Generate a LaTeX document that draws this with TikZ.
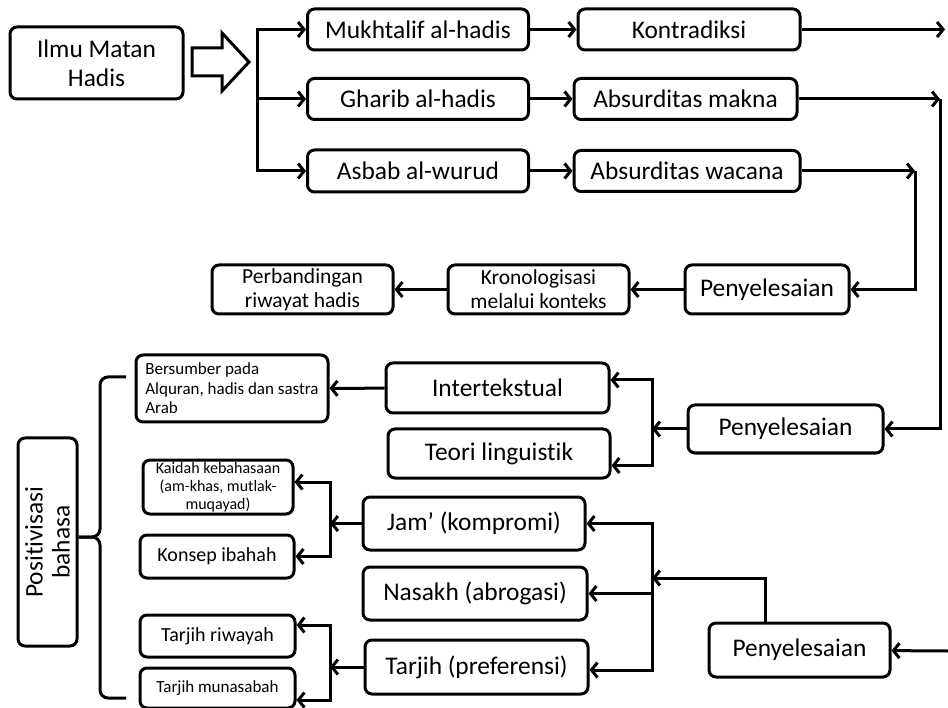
\documentclass[tikz,border=0pt]{standalone}
\usepackage{fontspec}
\setmainfont[Ligatures={TeX,NoCommon}]{Carlito}
\usetikzlibrary{arrows.meta}

\begin{document}
\begin{tikzpicture}[x=1pt,y=-1pt,>={Straight Barb[length=6pt,width=15pt]},
  box/.style={draw,line width=3pt,rounded corners=7pt,align=center,inner sep=0pt,font=\fontsize{25.4}{29}\selectfont},
  arr/.style={->,line width=3pt}]
\useasboundingbox (0,0) rectangle (948,708);
\node[box,minimum width=173pt,minimum height=72pt](ilmu) at (96.5,63){Ilmu Matan\\Hadis};
\draw[line width=3pt,line join=miter](192,48)--(222,48)--(222,33)--(249,62)--(222,91)--(222,76)--(192,76)--cycle;
\node[box,minimum width=221pt,minimum height=41pt](mukh) at (418,29.5){Mukhtalif al-hadis};
\node[box,minimum width=221pt,minimum height=41pt](ghar) at (418,99){Gharib al-hadis};
\node[box,minimum width=221pt,minimum height=42pt](asbab) at (418,171){Asbab al-wurud};
\node[box,minimum width=222pt,minimum height=41pt](kontra) at (689,29.5){Kontradiksi};
\node[box,minimum width=223pt,minimum height=41pt](makna) at (685.5,99){Absurditas makna};
\node[box,minimum width=226pt,minimum height=41pt](wacana) at (687,171){Absurditas wacana};
\node[box,minimum width=164pt,minimum height=49pt](penyA) at (767,289.5){Penyelesaian};
\node[box,minimum width=181pt,minimum height=49pt,font=\fontsize{21.5}{24}\selectfont](krono) at (538.5,289.5){Kronologisasi\\melalui konteks};
\node[box,minimum width=181pt,minimum height=49pt,font=\fontsize{21.5}{24}\selectfont](perband) at (302.5,289.5){Perbandingan\\riwayat hadis};
\node[box,minimum width=195pt,minimum height=48pt](penyB) at (785.5,429){Penyelesaian};
\node[box,minimum width=223pt,minimum height=50pt](intert) at (497.5,388){Intertekstual};
\node[box,minimum width=222pt,minimum height=49pt](teori) at (499,453.5){Teori linguistik};
\node[box,minimum width=192pt,minimum height=67pt,align=left,font=\fontsize{17}{19.5}\selectfont](sumber) at (232,388.5){Bersumber pada\\Alquran, hadis dan sastra\\Arab};
\node[box,minimum width=150pt,minimum height=54pt,font=\fontsize{16}{18}\selectfont](kaidah) at (218,487){Kaidah kebahasaan\\(am-khas, mutlak-\\muqayad)};
\node[box,minimum width=154pt,minimum height=43pt,font=\fontsize{20}{22}\selectfont](konsep) at (217,556.5){Konsep ibahah};
\node[box,minimum width=222pt,minimum height=53pt](jam) at (474,523.5){Jam’ (kompromi)};
\node[box,minimum width=224pt,minimum height=53pt](nasakh) at (475,593.5){Nasakh (abrogasi)};
\node[box,minimum width=223pt,minimum height=54pt](tarjih) at (476.5,667){Tarjih (preferensi)};
\node[box,minimum width=181pt,minimum height=54pt](penyC) at (799.5,650){Penyelesaian};
\node[box,minimum width=155pt,minimum height=42pt,font=\fontsize{20}{22}\selectfont](triw) at (217.5,636){Tarjih riwayah};
\node[box,minimum width=155pt,minimum height=40pt,font=\fontsize{17}{19}\selectfont](tmun) at (217.5,688){Tarjih munasabah};
\node[box,rotate=90,minimum width=208pt,minimum height=59pt,font=\fontsize{25.4}{27}\selectfont](posit) at (47.5,542){Positivisasi\\bahasa};
\coordinate(fork) at (257,99);
\coordinate(kout) at (945,29.5);
\coordinate(cA) at (940,99);
\coordinate(cB) at (915,171);
\coordinate(bB) at (652,429);
\coordinate(bJ) at (330,523.5);
\coordinate(bT) at (330,667);
\coordinate(bC) at (652,578);
\coordinate(cin) at (948,651);
\draw[arr](fork)|-(mukh);
\draw[arr](fork)--(ghar);
\draw[arr](fork)|-(asbab);
\draw[arr](mukh)--(kontra);
\draw[arr](ghar)--(makna);
\draw[arr](asbab)--(wacana);
\draw[arr](kontra)--(kout);
\draw[arr](makna)--(cA);
\draw[arr](wacana)--(cB);
\draw[arr](cB)|-(penyA);
\draw[arr](cA)|-(penyB);
\draw[arr](penyA)--(krono);
\draw[arr](krono)--(perband);
\draw[arr](penyB)--(bB);
\draw[arr](bB)|-([yshift=8pt]intert.east);
\draw[arr](bB)|-([yshift=-12pt]teori.east);
\draw[arr](intert)--(sumber);
\draw[arr](jam)--(bJ);
\draw[arr](bJ)|-([yshift=5pt]kaidah.east);
\draw[arr](bJ)|-(konsep);
\draw[arr](tarjih)--(bT);
\draw[arr](bT)|-([yshift=11pt]triw.east);
\draw[arr](bT)|-([yshift=-12pt]tmun.east);
\draw[arr]([xshift=-34pt]penyC.north)|-(bC);
\draw[arr](bC)|-(jam);
\draw[arr](bC)|-(nasakh);
\draw[arr](bC)|-([yshift=-3pt]tarjih.east);
\draw[arr](cin)--(penyC);
\draw[line width=3pt,rounded corners=8pt](126,377)--(100,377)--(100,537)--(posit.south |- 100,537);
\draw[line width=3pt,rounded corners=8pt](126,698)--(100,698)--(100,537)--(posit.south |- 100,537);
\end{tikzpicture}
\end{document}
